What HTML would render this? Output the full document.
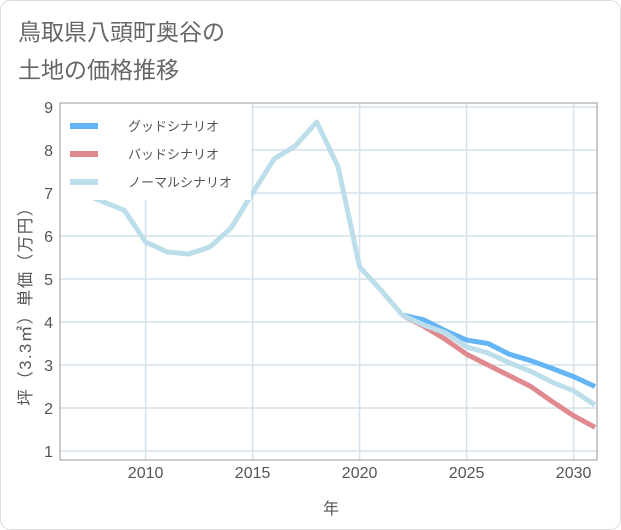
<!DOCTYPE html>
<html><head><meta charset="utf-8"><style>
body{margin:0;background:#fff;font-family:"Liberation Sans","Noto Sans CJK JP",sans-serif;}
#wrap{position:relative;width:621px;height:530px;overflow:hidden;}
</style></head><body>
<div id="wrap">
<svg id="chart" width="621" height="530" xmlns="http://www.w3.org/2000/svg">
<rect x="0.5" y="0.5" width="620" height="529" rx="10" fill="#fff" stroke="#ddd"/>
<text x="18" y="40" font-size="23" fill="#666">鳥取県八頭町奥谷の</text>
<text x="18" y="78" font-size="23" fill="#666">土地の価格推移</text>
<g id="grid"></g>
<g id="series"></g>
<rect x="60" y="103" width="537" height="357" fill="none" stroke="#999"/>
<g id="axes"></g>
<text x="331" y="514" font-size="16" fill="#555" text-anchor="middle">年</text>
<text transform="translate(31,302) rotate(-90)" font-size="16.5" letter-spacing="1.5" fill="#555" text-anchor="middle">坪（3.3㎡）単価（万円）</text>
<g>
<rect x="61" y="104" width="190" height="96" fill="#fff"/>
<line x1="70" y1="126" x2="98" y2="126" stroke="#64b5f6" stroke-width="6"/>
<text x="128" y="131" font-size="13" fill="#555">グッドシナリオ</text>
<line x1="70" y1="154" x2="98" y2="154" stroke="#e08a90" stroke-width="6"/>
<text x="128" y="159" font-size="13" fill="#555">バッドシナリオ</text>
<line x1="70" y1="182" x2="98" y2="182" stroke="#bcdeeb" stroke-width="6"/>
<text x="128" y="187" font-size="13" fill="#555">ノーマルシナリオ</text>
</g>
</svg>
</div>
<script>
const histYears=[2007,2008,2009,2010,2011,2012,2013,2014,2015,2016,2017,2018,2019,2020,2021,2022];
const histValues=[7.0,6.8,6.6,5.86,5.63,5.58,5.74,6.19,7.0,7.79,8.1,8.65,7.6,5.28,4.74,4.16];
const futYears=[2022,2023,2024,2025,2026,2027,2028,2029,2030,2031];
const goodValues=[4.16,4.05,3.8,3.58,3.5,3.25,3.1,2.92,2.73,2.5];
const badValues=[4.16,3.9,3.6,3.25,3.0,2.75,2.5,2.15,1.82,1.55];
const normalValues=[4.16,3.93,3.75,3.42,3.28,3.05,2.85,2.6,2.4,2.07];
const xTicks=[2010,2015,2020,2025,2030];
const yTicks=[1,2,3,4,5,6,7,8,9];
const NS="http://www.w3.org/2000/svg";
const X=y=>60+(y-2006)*21.4;
const Y=v=>451-(v-1)*43;
const grid=document.getElementById('grid'),axes=document.getElementById('axes'),ser=document.getElementById('series');
function mk(tag,attrs,parent){const e=document.createElementNS(NS,tag);for(const k in attrs)e.setAttribute(k,attrs[k]);parent.appendChild(e);return e;}
yTicks.forEach(v=>{
 const l=mk('line',{x1:60,x2:597,y1:Y(v),y2:Y(v),stroke:'#d3e1ea','stroke-width':1.5},grid);
 
 
 const t=mk('text',{x:53,y:Y(v)+6,'font-size':16,fill:'#555','text-anchor':'end'},axes);
 t.textContent=v;
 
 
});
xTicks.forEach(yr=>{
 const l=mk('line',{x1:X(yr),x2:X(yr),y1:103,y2:460,stroke:'#d3e1ea','stroke-width':1.5},grid);
 
 
 const t=mk('text',{x:X(yr),y:478,'font-size':16,fill:'#555','text-anchor':'middle'},axes);
 t.textContent=yr;
 
 
});
function line(xs,vs,color,name){
 const p=mk('polyline',{points:xs.map((x,i)=>X(x)+','+Y(vs[i])).join(' '),fill:'none',stroke:color,'stroke-width':5,'stroke-linejoin':'round'},ser);
 
 
}
line(futYears,goodValues,'#64b5f6','good-scenario-line');
line(futYears,badValues,'#e08a90','bad-scenario-line');
line(futYears,normalValues,'#bcdeeb','normal-scenario-line');
line(histYears,histValues,'#bcdeeb','historical-price-line');
</script>
</body></html>
